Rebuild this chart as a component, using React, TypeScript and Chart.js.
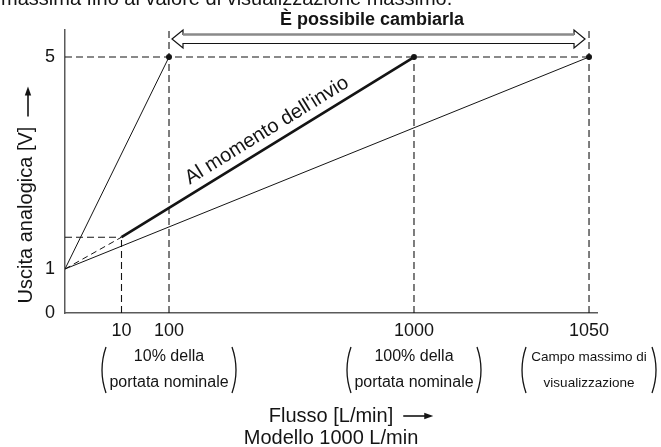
import React, { useEffect, useRef } from 'react';
import { Chart, registerables, LinearScale } from 'chart.js';

// ---------- data ----------
const xTickValues = [10, 100, 1000, 1050];
const yTickValues = [0, 1, 5];

const atShipment = [{ x: 10, y: 1.6 }, { x: 1000, y: 5 }];
const minRangeLine = [{ x: 0, y: 1 }, { x: 100, y: 5 }];
const maxRangeLine = [{ x: 0, y: 1 }, { x: 1050, y: 5 }];
const lowExtension = [{ x: 0, y: 1 }, { x: 10, y: 1.6 }];
const fullScalePoints = [{ x: 100, y: 5 }, { x: 1000, y: 5 }, { x: 1050, y: 5 }];

const guideH5 = [{ x: 0, y: 5 }, { x: 1050, y: 5 }];
const guideH10 = [{ x: 0, y: 1.6 }, { x: 10, y: 1.6 }];
const guideV10 = [{ x: 10, y: 0 }, { x: 10, y: 1.6 }];
const guideV100 = [{ x: 100, y: 0 }, { x: 100, y: 5.55 }];
const guideV1000 = [{ x: 1000, y: 0 }, { x: 1000, y: 5 }];
const guideV1050 = [{ x: 1050, y: 0 }, { x: 1050, y: 5.55 }];

const rangeFrom = 100;
const rangeTo = 1050;

const captionAnchors = [100, 1000, 1050];
const captionLines = [
  ['10% della', 'portata nominale'],
  ['100% della', 'portata nominale'],
  ['Campo massimo di', 'visualizzazione'],
];

const HEADER_TEXT = 'massima fino al valore di visualizzazione massimo.';
const RANGE_LABEL = 'È possibile cambiarla';
const LINE_LABEL = "Al momento dell'invio";
const Y_TITLE = 'Uscita analogica [V]';
const X_TITLE = 'Flusso [L/min]';
const X_SUBTITLE = 'Modello 1000 L/min';

// ---------- schematic (piecewise linear) scale ----------
class PiecewiseScale extends LinearScale {
  static id = 'piecewise';
  static defaults = {};
  _toDecimal(value: number) {
    const vs = (this as any).options.breakValues as number[];
    const fs = (this as any).options.breakFractions as number[];
    if (!vs || !fs) return (value - this.min) / (this.max - this.min);
    let i = 0;
    while (i < vs.length - 2 && value > vs[i + 1]) i++;
    return fs[i] + ((value - vs[i]) / (vs[i + 1] - vs[i])) * (fs[i + 1] - fs[i]);
  }
  getPixelForValue(value: any) {
    if (value === null || value === undefined || isNaN(value)) return NaN;
    return this.getPixelForDecimal(this._toDecimal(+value));
  }
  getValueForPixel(pixel: number) {
    const d = this.getDecimalForPixel(pixel);
    const vs = (this as any).options.breakValues as number[];
    const fs = (this as any).options.breakFractions as number[];
    if (!vs || !fs) return this.min + d * (this.max - this.min);
    let i = 0;
    while (i < fs.length - 2 && d > fs[i + 1]) i++;
    return vs[i] + ((d - fs[i]) / (fs[i + 1] - fs[i])) * (vs[i + 1] - vs[i]);
  }
}

Chart.register(...registerables, PiecewiseScale as any);

const FONT = '"Liberation Sans", Arial, Helvetica, sans-serif';
const INK = '#141414';

function arrowHead(ctx: CanvasRenderingContext2D, x: number, y: number, dx: number, dy: number) {
  const len = 9, half = 3.2;
  const px = -dy, py = dx;
  ctx.beginPath();
  ctx.moveTo(x, y);
  ctx.lineTo(x - dx * len + px * half, y - dy * len + py * half);
  ctx.lineTo(x - dx * len - px * half, y - dy * len - py * half);
  ctx.closePath();
  ctx.fill();
}

const annotations = {
  id: 'annotations',
  afterDraw(chart: any) {
    const { ctx, scales, chartArea } = chart;
    const xs = scales.x, ys = scales.y;
    ctx.save();
    ctx.fillStyle = INK;
    ctx.strokeStyle = INK;

    // header (cut off at top)
    ctx.font = `20px ${FONT}`;
    ctx.textAlign = 'left';
    ctx.textBaseline = 'alphabetic';
    ctx.fillText(HEADER_TEXT, 1, 5);

    // range label + hollow double arrow
    const ax1 = xs.getPixelForValue(rangeFrom) + 3;
    const ax2 = xs.getPixelForValue(rangeTo) - 4;
    ctx.font = `bold 18px ${FONT}`;
    ctx.textAlign = 'center';
    ctx.fillText(RANGE_LABEL, 372, 25);
    const yc = chartArea.top + 9;
    const hh = 9, sh = 4.5, hl = 11;
    ctx.beginPath();
    ctx.moveTo(ax1, yc);
    ctx.lineTo(ax1 + hl, yc - hh);
    ctx.lineTo(ax1 + hl, yc - sh);
    ctx.lineTo(ax2 - hl, yc - sh);
    ctx.lineTo(ax2 - hl, yc - hh);
    ctx.lineTo(ax2, yc);
    ctx.lineTo(ax2 - hl, yc + hh);
    ctx.lineTo(ax2 - hl, yc + sh);
    ctx.lineTo(ax1 + hl, yc + sh);
    ctx.lineTo(ax1 + hl, yc + hh);
    ctx.closePath();
    ctx.fillStyle = '#fff';
    ctx.fill();
    ctx.lineWidth = 1.2;
    ctx.stroke();
    ctx.beginPath();
    ctx.moveTo(ax1 + hl, yc - sh);
    ctx.lineTo(ax2 - hl, yc - sh);
    ctx.strokeStyle = '#8a8a8a';
    ctx.lineWidth = 2.4;
    ctx.stroke();
    ctx.strokeStyle = INK;
    ctx.fillStyle = INK;

    // label along the shipment line
    const p1x = xs.getPixelForValue(atShipment[0].x), p1y = ys.getPixelForValue(atShipment[0].y);
    const p2x = xs.getPixelForValue(atShipment[1].x), p2y = ys.getPixelForValue(atShipment[1].y);
    const ang = Math.atan2(p2y - p1y, p2x - p1x);
    ctx.save();
    ctx.translate((p1x + p2x) / 2, (p1y + p2y) / 2);
    ctx.rotate(ang);
    ctx.font = `20px ${FONT}`;
    ctx.textAlign = 'center';
    ctx.textBaseline = 'alphabetic';
    ctx.fillText(LINE_LABEL, 8, -9);
    ctx.restore();

    // captions under ticks
    captionAnchors.forEach((v, i) => {
      const cx = xs.getPixelForValue(v);
      const small = i === 2;
      ctx.font = `${small ? 13.5 : 16}px ${FONT}`;
      ctx.textAlign = 'center';
      ctx.textBaseline = 'middle';
      ctx.fillText(captionLines[i][0], cx, 357);
      ctx.fillText(captionLines[i][1], cx, 383);
      const half = 67;
      ctx.lineWidth = 1.3;
      ctx.beginPath();
      ctx.moveTo(cx - half + 4, 347);
      ctx.quadraticCurveTo(cx - half - 4, 370, cx - half + 4, 393);
      ctx.stroke();
      ctx.beginPath();
      ctx.moveTo(cx + half - 4, 347);
      ctx.quadraticCurveTo(cx + half + 4, 370, cx + half - 4, 393);
      ctx.stroke();
    });

    // x title
    const xc = (chartArea.left + chartArea.right) / 2;
    ctx.font = `20px ${FONT}`;
    ctx.textAlign = 'center';
    ctx.textBaseline = 'middle';
    ctx.fillText(X_TITLE, xc, 416);
    ctx.fillText(X_SUBTITLE, xc, 438);
    const tw = ctx.measureText(X_TITLE).width;
    const axs = xc + tw / 2 + 10;
    ctx.lineWidth = 1.6;
    ctx.beginPath();
    ctx.moveTo(axs, 416);
    ctx.lineTo(axs + 26, 416);
    ctx.stroke();
    arrowHead(ctx, axs + 30, 416, 1, 0);

    // y title
    ctx.save();
    ctx.translate(26, 215);
    ctx.rotate(-Math.PI / 2);
    ctx.textAlign = 'center';
    ctx.textBaseline = 'middle';
    ctx.fillText(Y_TITLE, 0, 0);
    ctx.restore();
    const th = ctx.measureText(Y_TITLE).width;
    const ays = 215 - th / 2 - 10;
    ctx.beginPath();
    ctx.moveTo(28, ays);
    ctx.lineTo(28, ays - 26);
    ctx.stroke();
    arrowHead(ctx, 28, ays - 30, 0, -1);

    ctx.restore();
  },
};

const lineDs = (data: any[], width: number, dash: number[] = [], extra: any = {}) => ({
  data,
  showLine: true,
  borderColor: INK,
  backgroundColor: INK,
  borderWidth: width,
  borderDash: dash,
  pointRadius: 0,
  ...extra,
});

export default function App() {
  const ref = useRef<HTMLCanvasElement | null>(null);
  useEffect(() => {
    if (!ref.current) return;
    const chart = new Chart(ref.current, {
      type: 'scatter',
      data: {
        datasets: [
          lineDs(guideH5, 1.1, [7, 4]),
          lineDs(guideH10, 1.1, [7, 4]),
          lineDs(guideV10, 1.1, [7, 4]),
          lineDs(guideV100, 1.1, [7, 4], { clip: 6 }),
          lineDs(guideV1000, 1.1, [7, 4]),
          lineDs(guideV1050, 1.1, [7, 4], { clip: 6 }),
          lineDs(lowExtension, 1, [6, 4]),
          lineDs(minRangeLine, 1),
          lineDs(maxRangeLine, 1),
          lineDs(atShipment, 2.7),
          {
            data: fullScalePoints,
            showLine: false,
            pointRadius: 3,
            backgroundColor: INK,
            borderColor: INK,
            borderWidth: 0,
          },
        ] as any,
      },
      options: {
        animation: false,
        responsive: false,
        events: [],
        layout: { padding: { top: 30, right: 64, left: 0, bottom: 0 } },
        plugins: { legend: { display: false }, tooltip: { enabled: false } },
        scales: {
          x: {
            type: 'piecewise' as any,
            min: 0,
            max: 1052.3,
            breakValues: [0, 10, 100, 1000, 1050, 1052.3],
            breakFractions: [0, 0.1062, 0.1955, 0.656, 0.985, 1],
            grid: { display: false, drawTicks: false },
            border: { display: true, color: '#5a5a5a', width: 1.5 },
            ticks: {
              autoSkip: false,
              maxRotation: 0,
              padding: 7,
              color: INK,
              font: { family: FONT, size: 18 },
              callback: (v: any) => String(v),
            },
            afterBuildTicks: (s: any) => {
              s.ticks = xTickValues.map((v) => ({ value: v }));
            },
            afterFit: (s: any) => {
              s.height = 134;
            },
          } as any,
          y: {
            type: 'piecewise' as any,
            min: 0,
            max: 5.51,
            breakValues: [0, 1, 5.51],
            breakFractions: [0, 0.1555, 1],
            grid: { display: false, drawTicks: false },
            border: { display: true, color: '#5a5a5a', width: 1.5 },
            ticks: {
              autoSkip: false,
              padding: 10,
              color: INK,
              font: { family: FONT, size: 18 },
              callback: (v: any) => String(v),
            },
            afterBuildTicks: (s: any) => {
              s.ticks = yTickValues.map((v) => ({ value: v }));
            },
            afterFit: (s: any) => {
              s.width = 65;
            },
          } as any,
        },
      } as any,
      plugins: [annotations],
    });
    return () => chart.destroy();
  }, []);
  return (
    <div style={{ position: 'fixed', left: 0, top: 0, width: 661, height: 447, background: '#fff' }}>
      <canvas ref={ref} width={661} height={447} style={{ display: 'block' }} />
    </div>
  );
}
